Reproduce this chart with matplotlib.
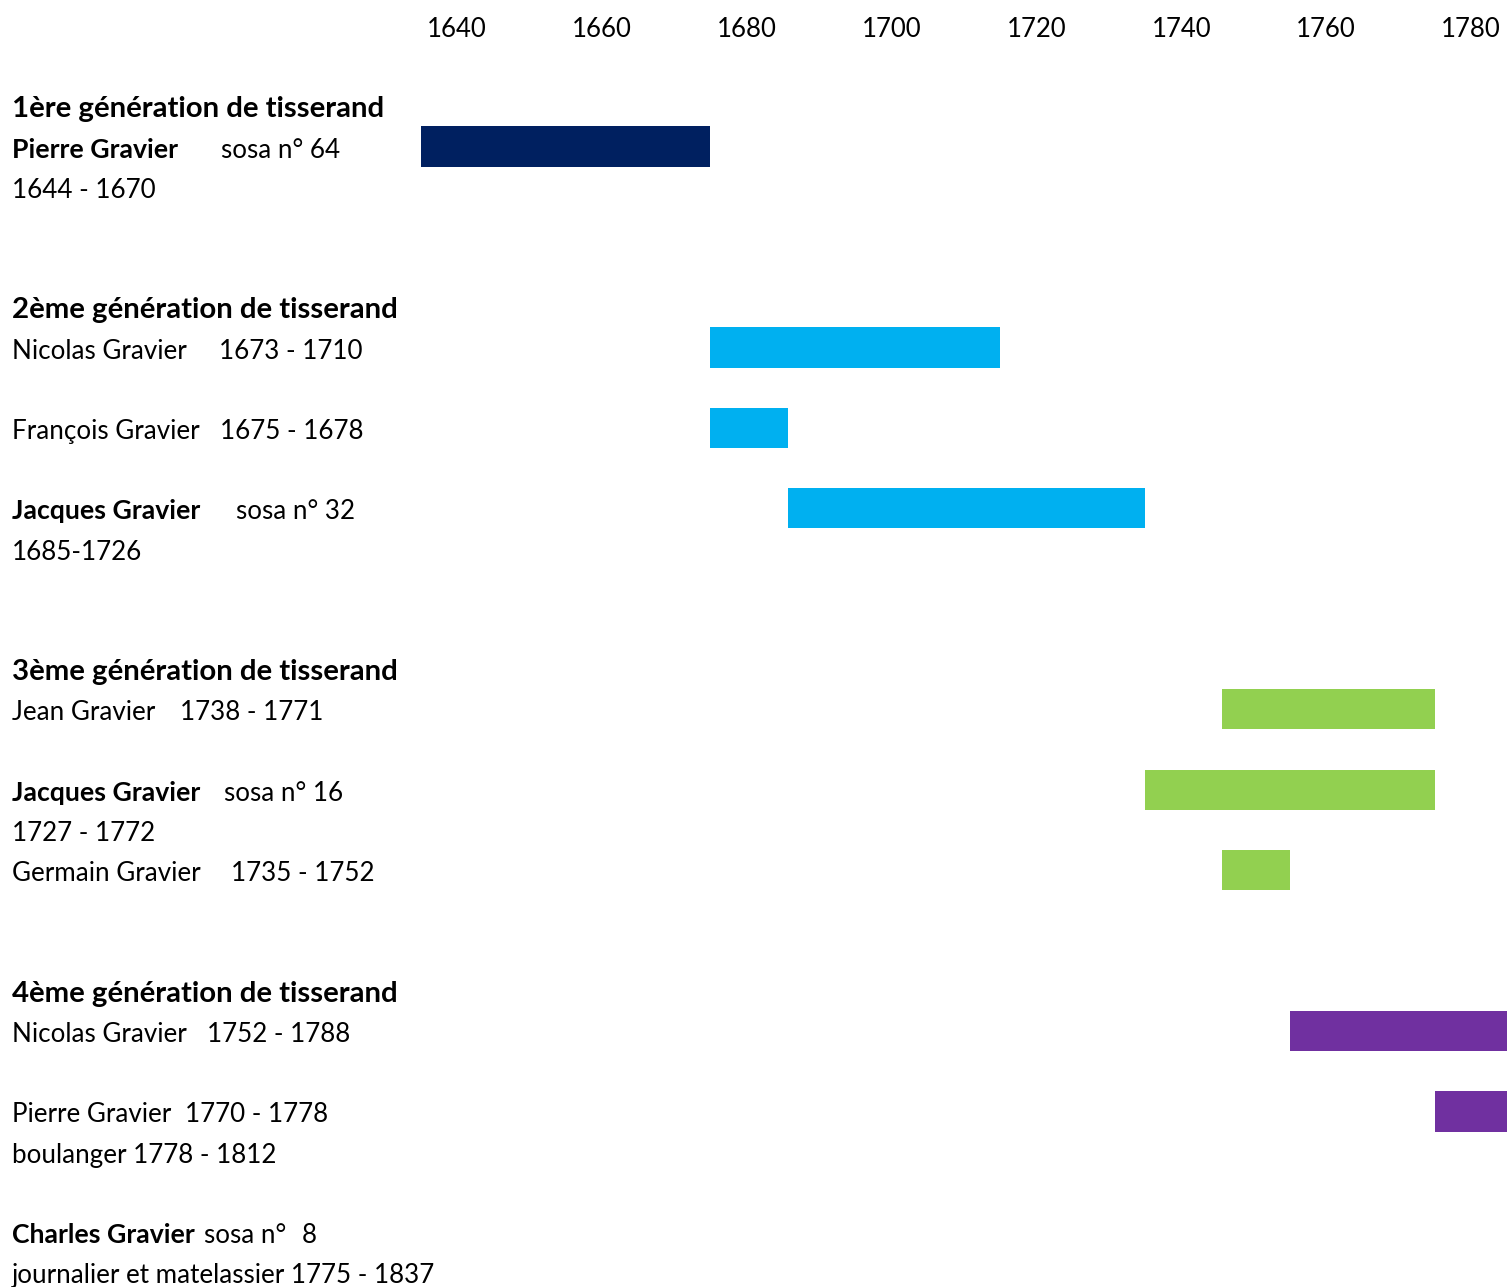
import matplotlib.pyplot as plt
from matplotlib.transforms import blended_transform_factory

plt.rcParams['font.family'] = ['Lato', 'DejaVu Sans']

# bars of the timeline (years)
people = ['Pierre Gravier', 'Nicolas Gravier', 'François Gravier', 'Jacques Gravier',
          'Jean Gravier', 'Jacques Gravier', 'Germain Gravier',
          'Nicolas Gravier', 'Pierre Gravier']
generation = [1, 2, 2, 2, 3, 3, 3, 4, 4]
start = [1635, 1675, 1675, 1685.7, 1745.6, 1735, 1745.6, 1755, 1775]
end = [1675, 1715, 1685.7, 1735, 1775, 1775, 1755, 1785, 1785]
year_ticks = [1640, 1660, 1680, 1700, 1720, 1740, 1760, 1780]

gen_colors = {1: '#002060', 2: '#00B0F0', 3: '#92D050', 4: '#7030A0'}

# text lines on the left: (row, [(x in px, text, style), ...])
# style: 'h' = generation header, 'b' = bold name, 'n' = normal
lines = [
    (2, [(12, '1ère génération de tisserand', 'h')]),
    (3, [(12, 'Pierre Gravier', 'b'), (221, 'sosa n° 64', 'n')]),
    (4, [(12, '1644 - 1670', 'n')]),
    (7, [(12, '2ème génération de tisserand', 'h')]),
    (8, [(12, 'Nicolas Gravier', 'n'), (219, '1673 - 1710', 'n')]),
    (10, [(12, 'François Gravier', 'n'), (220, '1675 - 1678', 'n')]),
    (12, [(12, 'Jacques Gravier', 'b'), (236, 'sosa n° 32', 'n')]),
    (13, [(12, '1685-1726', 'n')]),
    (16, [(12, '3ème génération de tisserand', 'h')]),
    (17, [(12, 'Jean Gravier', 'n'), (180, '1738 - 1771', 'n')]),
    (19, [(12, 'Jacques Gravier', 'b'), (224, 'sosa n° 16', 'n')]),
    (20, [(12, '1727 - 1772', 'n')]),
    (21, [(12, 'Germain Gravier', 'n'), (231, '1735 - 1752', 'n')]),
    (24, [(12, '4ème génération de tisserand', 'h')]),
    (25, [(12, 'Nicolas Gravier', 'n'), (207, '1752 - 1788', 'n')]),
    (27, [(12, 'Pierre Gravier', 'n'), (185, '1770 - 1778', 'n')]),
    (28, [(12, 'boulanger 1778 - 1812', 'n')]),
    (30, [(12, 'Charles Gravier', 'b'), (204, 'sosa n°', 'n'), (302, '8', 'n')]),
    (31, [(12, 'journalier et matelassier 1775 - 1837', 'n')]),
]
bar_rows = [3, 8, 10, 12, 17, 19, 21, 25, 27]

W, H = 1507, 1287
row_px = 40.2       # height of one text row
row0_px = 26        # centre of row 0
px_year = 7.245
x1640 = 456.8
xmin, xmax = 1634.8, 1785.1

fig = plt.figure(figsize=(W / 100, H / 100), dpi=100)
left_px = x1640 - (1640 - xmin) * px_year
ax = fig.add_axes([left_px / W, 0, (xmax - xmin) * px_year / W, 1])
ax.set_xlim(xmin, xmax)
ax.set_ylim((H - row0_px) / row_px, -row0_px / row_px)
ax.axis('off')

ax.barh(bar_rows, [e - s for s, e in zip(start, end)], left=start, height=1.0,
        color=[gen_colors[g] for g in generation], clip_on=True)

styles = {'h': (21.2, 'bold'), 'b': (19.2, 'bold'), 'n': (18.7, 'normal')}
base = 11 / row_px  # baseline sits a bit below the row centre
for yr in year_ticks:
    ax.text(yr, 0 + base, str(yr), ha='center', va='baseline', fontsize=18.5)

trans = blended_transform_factory(fig.transFigure, ax.transData)
for row, parts in lines:
    for x, txt, st in parts:
        size, weight = styles[st]
        ax.text(x / W, row + base, txt, transform=trans, ha='left', va='baseline',
                fontsize=size, fontweight=weight, clip_on=False)

fig.savefig('out.png', dpi=100)
